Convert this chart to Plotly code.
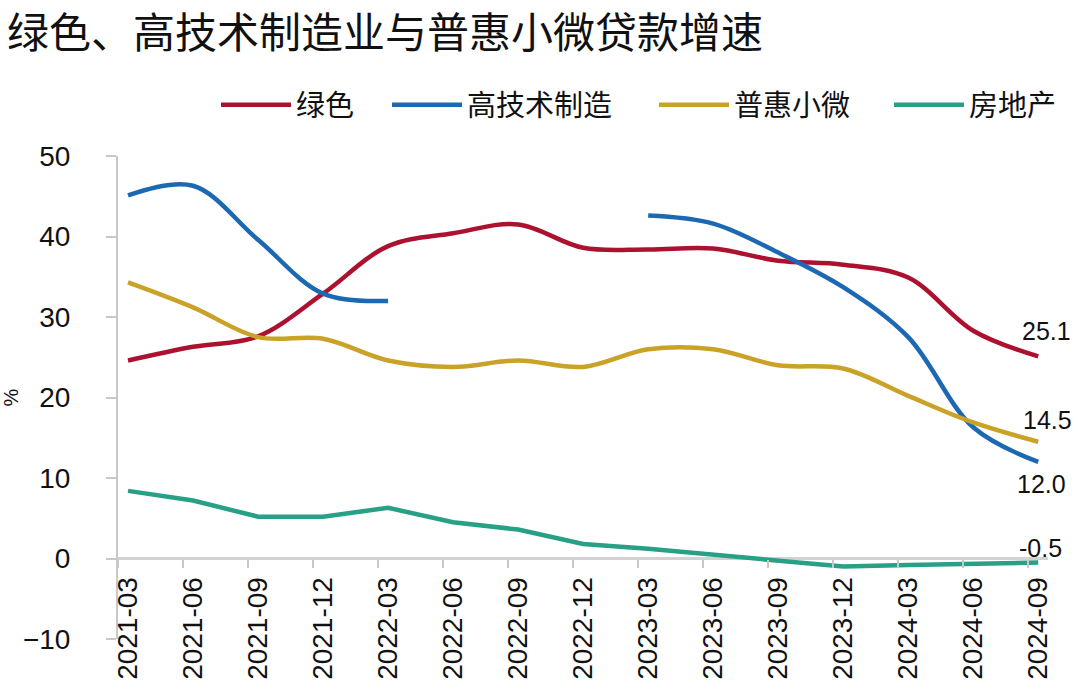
import plotly.graph_objects as go

categories = ["2021-03", "2021-06", "2021-09", "2021-12", "2022-03", "2022-06", "2022-09",
              "2022-12", "2023-03", "2023-06", "2023-09", "2023-12", "2024-03", "2024-06", "2024-09"]
green = [24.6, 26.3, 27.6, 32.9, 38.8, 40.4, 41.5, 38.6, 38.4, 38.5, 37.0, 36.5, 34.9, 28.3, 25.1]
hitech = [45.1, 46.3, 39.6, 32.9, 32.0, None, None, None, 42.6, 41.6, 38.0, 33.7, 27.5, 16.3, 12.0]
smallmicro = [34.3, 31.2, 27.5, 27.3, 24.6, 23.8, 24.6, 23.8, 26.0, 26.0, 24.0, 23.6, 20.2, 16.9, 14.5]
realestate = [8.4, 7.2, 5.2, 5.2, 6.3, 4.5, 3.6, 1.8, 1.2, 0.5, -0.2, -1.0, -0.8, -0.6, -0.5]

names = ["绿色", "高技术制造", "普惠小微", "房地产"]
colors = ["#AD1130", "#1C68B2", "#C9A227", "#27A086"]
shapes = ["spline", "spline", "spline", "linear"]
series = [green, hitech, smallmicro, realestate]

idx = list(range(len(categories)))
tick_offset = 0.154
AX = "#C8C8C8"
NUM_FONT = "Liberation Sans"
CJK_FONT = "Noto Sans CJK SC"

# plot area geometry (for legend placement)
L, R, T, B = 118, 32, 156, 57
PW = 1080 - L - R
PH = 696 - T - B
legend_px = [222, 393, 660, 895]   # left end of each legend line
legend_keys = ["legend", "legend2", "legend3", "legend4"]

fig = go.Figure()
for name, vals, col, shp, lg in zip(names, series, colors, shapes, legend_keys):
    fig.add_trace(go.Scatter(x=idx, y=vals, name=name, mode="lines",
                             line=dict(color=col, width=4.5, shape=shp),
                             connectgaps=False, legend=lg))

# helper trace for the offset tick marks axis
fig.add_trace(go.Scatter(x=[i - tick_offset for i in idx], y=[None] * len(idx),
                         xaxis="x2", showlegend=False, hoverinfo="skip", mode="lines"))

# end-value labels
label_shift = {0: (8, 25), 1: (3, -22), 2: (9, 22), 3: (2, 15)}
for k, vals in enumerate(series):
    v = vals[-1]
    dx, dy = label_shift[k]
    fig.add_annotation(x=idx[-1], y=v, text=f"{v:.1f}", showarrow=False,
                       xshift=dx, yshift=dy,
                       font=dict(family=NUM_FONT, size=25, color="#111111"))

xr = [-tick_offset, 14.15]
zero_pos = 10 / 60

legends = {}
for lg, px in zip(legend_keys, legend_px):
    legends[lg] = dict(orientation="h", x=(px - 6 - L) / PW, xanchor="left",
                       y=1 + (T - 105) / PH, yanchor="middle",
                       font=dict(family=CJK_FONT, size=29, color="#111111"),
                       itemwidth=70, bgcolor="rgba(0,0,0,0)")

fig.update_layout(
    width=1080, height=696,
    paper_bgcolor="white", plot_bgcolor="white",
    margin=dict(l=L, r=R, t=T, b=B, autoexpand=False),
    title=dict(text="绿色、高技术制造业与普惠小微贷款增速", x=7 / 1080, xanchor="left",
               y=1 - 33 / 696, yanchor="middle",
               font=dict(family=CJK_FONT, size=42, color="#111111")),
    showlegend=True,
    xaxis=dict(range=xr, tickvals=idx, ticktext=categories, tickangle=-90,
               anchor="free", position=zero_pos, ticks="", showline=False,
               zeroline=False, showgrid=False, ticklabelstandoff=12, automargin=False,
               tickfont=dict(family=NUM_FONT, size=28, color="#111111")),
    xaxis2=dict(range=xr, overlaying="x", anchor="free", position=zero_pos,
                tickvals=[i - tick_offset for i in idx], ticks="outside", ticklen=8,
                tickwidth=2, tickcolor=AX, showticklabels=False, showline=False,
                zeroline=False, showgrid=False, automargin=False),
    yaxis=dict(range=[-10, 50], dtick=10, ticks="outside", ticklen=10, tickwidth=2,
               tickcolor=AX, showline=True, linecolor=AX, linewidth=2,
               zeroline=True, zerolinecolor="#D2D2D2", zerolinewidth=2.5,
               showgrid=False, ticklabelstandoff=30, automargin=False,
               tickfont=dict(family=NUM_FONT, size=28, color="#111111"),
               title=dict(text="%", standoff=2,
                          font=dict(family=NUM_FONT, size=20, color="#111111"))),
    **legends,
)

fig.write_html("out.html", post_script="document.body.style.margin='0';",
               config={"displayModeBar": False})
